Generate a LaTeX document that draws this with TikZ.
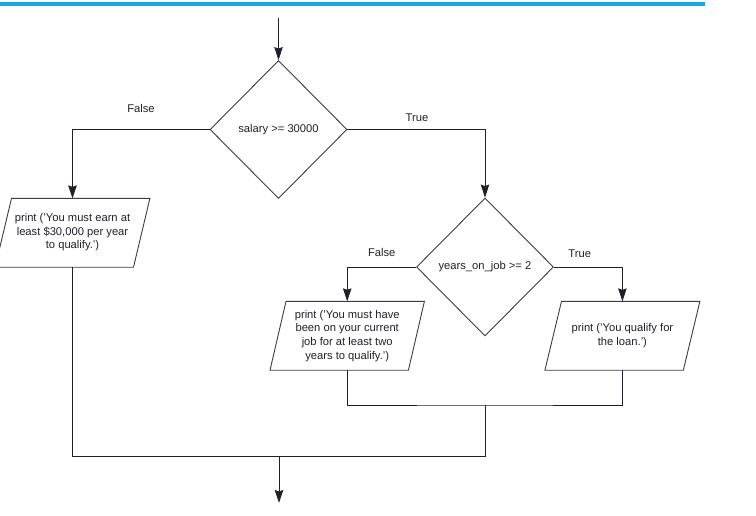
\documentclass[tikz,border=0pt]{standalone}
\usepackage{fontspec}
\setmainfont{Liberation Sans}
\usetikzlibrary{shapes.geometric,arrows.meta,calc}
\definecolor{topblue}{RGB}{24,168,226}
\definecolor{ink}{RGB}{35,31,40}
\definecolor{edge}{RGB}{60,60,60}
\begin{document}
\begin{tikzpicture}[x=1pt,y=-1pt,
  every node/.style={font=\fontsize{11.2}{13.6}\selectfont, text=ink},
  flow/.style={line width=0.9pt, draw=ink},
  arrow/.style={flow, -{Stealth[length=13pt,width=8.5pt,inset=1.5pt]}},
  decision/.style={shape=diamond, draw=edge, line width=0.9pt, aspect=1,
    minimum width=137pt, minimum height=138pt, inner sep=0pt},
  iobox/.style={shape=rectangle, draw=none, minimum width=138pt,
    minimum height=68.5pt, inner sep=0pt, align=center},
  lbl/.style={inner sep=0pt}
]
\useasboundingbox (0,0) rectangle (756,515);
\fill[topblue] (0,2.2) rectangle (705,6.2);

% nodes
\node[decision] (d1) at (278.5,129.5) {salary >= 30000};
\node[decision] (d2) at (485,267) {\raisebox{2pt}{years\_on\_job >= 2}};
\node[iobox] (p1) at (72.5,232.8) {\raisebox{3pt}{\shortstack{print ('You must earn at\\least \$30,000 per year\\to qualify.')}}};
\node[iobox] (p2) at (347.2,335.8) {print ('You must have\\been on your current\\job for at least two\\years to qualify.')};
\node[iobox] (p3) at (622.4,335.8) {print ('You qualify for\\the loan.')};

% parallelogram outlines
\foreach \n/\s in {p1/8.2,p2/8,p3/8.3}{
  \draw[draw=edge, line width=0.9pt]
    ([xshift=\s pt]\n.north west) -- ([xshift=\s pt]\n.north east)
    -- ([xshift=-\s pt]\n.south east) -- ([xshift=-\s pt]\n.south west) -- cycle;
}

% labels
\node[lbl] at (141,108.5) {False};
\node[lbl] at (417,117.5) {True};
\node[lbl] at (381.7,252.5) {False};
\node[lbl] at (579.7,253.5) {True};

% coordinates
\coordinate (start) at (278.5,17.5);
\coordinate (j1) at (485,405);
\coordinate (j2) at (485,456.7);
\coordinate (m2) at (279,456.7);
\coordinate (finish) at (279,503);

% connectors
\draw[arrow] (start) -- (d1.north);
\draw[arrow] (d1.west) -| (p1.north);
\draw[arrow] (d1.east) -| (d2.north);
\draw[arrow] (d2.west) -| (p2.north);
\draw[arrow] (d2.east) -| (p3.north);
\draw[flow] (p2.south) |- (j1) -| (p3.south);
\draw[flow] (j1) -- (j2) -| (p1.south);
\draw[arrow] (m2) -- (finish);
\end{tikzpicture}
\end{document}
